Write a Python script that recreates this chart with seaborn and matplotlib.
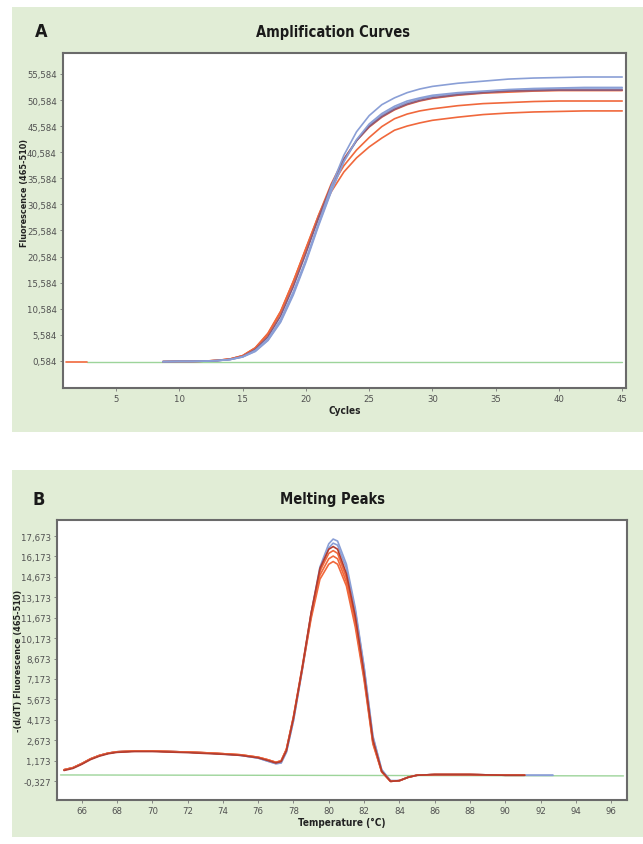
import matplotlib
matplotlib.use("Agg")
import matplotlib.pyplot as plt
import seaborn as sns
import pandas as pd
from matplotlib import font_manager
from matplotlib.font_manager import FontProperties
from matplotlib.patches import Rectangle
from matplotlib.ticker import FixedLocator, FuncFormatter

# ---------------- data: panel A (amplification) ----------------
cycles = [8.7, 10, 11, 12, 13, 14, 15, 16, 17, 18, 19, 20, 21, 22, 23, 24, 25,
          26, 27, 28, 29, 30, 32, 34, 36, 38, 40, 42, 45]
amp_blue1 = [0.45, 0.5, 0.5, 0.55, 0.65, 0.85, 1.4, 2.6, 4.8, 8.5, 13.8, 20.0, 27.0, 34.0, 40.0,
             44.5, 47.6, 49.7, 51.0, 52.0, 52.7, 53.2, 53.8, 54.2, 54.6, 54.8, 54.9, 55.0, 55.0]
amp_blue2 = [0.45, 0.5, 0.5, 0.55, 0.65, 0.85, 1.35, 2.4, 4.5, 8.0, 13.2, 19.5, 26.5, 33.0, 38.8,
             43.0, 46.0, 48.0, 49.4, 50.4, 51.0, 51.5, 52.0, 52.3, 52.6, 52.8, 52.9, 53.0, 53.0]
amp_blue3 = [0.45, 0.5, 0.5, 0.55, 0.65, 0.85, 1.35, 2.5, 4.6, 8.2, 13.5, 19.8, 26.8, 33.2, 38.8,
             42.8, 45.7, 47.7, 49.1, 50.1, 50.8, 51.3, 51.8, 52.1, 52.4, 52.6, 52.7, 52.7, 52.7]
amp_dark = [0.45, 0.5, 0.5, 0.55, 0.65, 0.9, 1.45, 2.8, 5.2, 9.2, 14.8, 21.2, 28.0, 34.2, 39.2,
            42.8, 45.5, 47.4, 48.8, 49.8, 50.5, 51.0, 51.6, 52.0, 52.3, 52.4, 52.5, 52.5, 52.5]
amp_orange1 = [0.45, 0.5, 0.5, 0.55, 0.7, 0.95, 1.55, 3.0, 5.6, 9.8, 15.5, 22.0, 28.5, 34.5, 39.3,
               42.8, 45.4, 47.3, 48.7, 49.7, 50.4, 50.9, 51.5, 51.9, 52.1, 52.3, 52.4, 52.4, 52.4]
amp_orange2 = [0.45, 0.5, 0.5, 0.55, 0.7, 0.95, 1.6, 3.1, 5.8, 10.0, 15.8, 22.2, 28.5, 34.0, 38.0,
               41.0, 43.4, 45.5, 47.0, 47.9, 48.5, 48.9, 49.5, 49.9, 50.1, 50.3, 50.4, 50.4, 50.4]
amp_orange3 = [0.45, 0.5, 0.5, 0.55, 0.7, 0.95, 1.6, 3.1, 5.9, 10.1, 15.8, 22.0, 28.0, 33.0, 36.8,
               39.5, 41.6, 43.3, 44.8, 45.6, 46.2, 46.7, 47.3, 47.8, 48.1, 48.3, 48.4, 48.5, 48.5]
amp_start_cycles = [1.0, 2.7]
amp_start_values = [0.4, 0.4]
amp_green_cycles = [2.7, 45]
amp_green_values = [0.3, 0.3]
a_xticks = [5, 10, 15, 20, 25, 30, 35, 40, 45]
a_yticks = [0.584, 5.584, 10.584, 15.584, 20.584, 25.584, 30.584, 35.584,
            40.584, 45.584, 50.584, 55.584]

# ---------------- data: panel B (melting peaks) ----------------
temp_orange = [65, 65.5, 66, 66.5, 67, 67.5, 68, 69, 70, 71, 72, 73, 74, 75, 76, 76.5, 77, 77.3,
               77.6, 78, 78.5, 79, 79.5, 80, 80.25, 80.5, 81, 81.5, 82, 82.5, 83, 83.5, 84, 84.5,
               85, 86, 88, 90, 91.1]
temp_blue = temp_orange[:-1] + [91, 92.7]
melt_orange1 = [0.5, 0.65, 0.95, 1.3, 1.55, 1.72, 1.82, 1.88, 1.88, 1.84, 1.8, 1.75, 1.68, 1.6, 1.42,
                1.25, 1.05, 1.15, 2.0, 4.4, 8.1, 12.0, 15.1, 16.4, 16.6, 16.4, 14.6, 11.5, 7.4, 2.6,
                0.35, -0.35, -0.3, -0.05, 0.1, 0.15, 0.15, 0.1, 0.1]
melt_orange2 = [0.5, 0.65, 0.95, 1.3, 1.55, 1.72, 1.82, 1.88, 1.88, 1.84, 1.8, 1.75, 1.68, 1.6, 1.42,
                1.25, 1.05, 1.15, 2.0, 4.4, 8.0, 11.8, 14.8, 16.0, 16.2, 16.0, 14.3, 11.3, 7.3, 2.5,
                0.35, -0.35, -0.3, -0.05, 0.1, 0.15, 0.15, 0.1, 0.1]
melt_orange3 = [0.5, 0.65, 0.95, 1.3, 1.55, 1.72, 1.82, 1.88, 1.88, 1.84, 1.8, 1.75, 1.68, 1.6, 1.42,
                1.25, 1.05, 1.15, 2.0, 4.3, 7.9, 11.6, 14.5, 15.6, 15.8, 15.6, 14.0, 11.0, 7.1, 2.4,
                0.35, -0.35, -0.3, -0.05, 0.1, 0.15, 0.15, 0.1, 0.1]
melt_dark = [0.45, 0.6, 0.9, 1.25, 1.5, 1.68, 1.78, 1.84, 1.84, 1.8, 1.76, 1.7, 1.64, 1.56, 1.38,
             1.2, 1.0, 1.1, 1.9, 4.3, 8.0, 12.0, 15.3, 16.7, 16.9, 16.7, 14.9, 11.8, 7.6, 2.7,
             0.4, -0.35, -0.3, -0.05, 0.1, 0.15, 0.15, 0.1, 0.1]
melt_blue1 = [0.5, 0.65, 0.95, 1.3, 1.55, 1.72, 1.82, 1.88, 1.88, 1.84, 1.8, 1.74, 1.66, 1.56, 1.36,
              1.15, 0.95, 1.0, 1.8, 4.1, 7.9, 12.0, 15.4, 17.1, 17.45, 17.3, 15.6, 12.4, 8.1, 3.0,
              0.5, -0.3, -0.3, -0.05, 0.1, 0.15, 0.15, 0.1, 0.1, 0.1]
melt_blue2 = [0.5, 0.65, 0.95, 1.3, 1.55, 1.72, 1.82, 1.88, 1.88, 1.84, 1.8, 1.74, 1.66, 1.56, 1.36,
              1.15, 0.95, 1.0, 1.8, 4.1, 7.8, 11.8, 15.1, 16.8, 17.15, 17.0, 15.3, 12.2, 8.0, 2.9,
              0.5, -0.3, -0.3, -0.05, 0.1, 0.15, 0.15, 0.1, 0.1, 0.1]
melt_green_temps = [64.8, 96.7]
melt_green_values = [0.12, 0.05]
b_xticks = [66, 68, 70, 72, 74, 76, 78, 80, 82, 84, 86, 88, 90, 92, 94, 96]
b_yticks = [-0.327, 1.173, 2.673, 4.173, 5.673, 7.173, 8.673, 10.173, 11.673,
            13.173, 14.673, 16.173, 17.673]

# ---------------- style ----------------
BLUE = "#8a9fd6"
ORANGE = "#f0683c"
DARK_A = "#8c5a78"
DARK_B = "#b23c30"
GREEN = "#9dd49a"
PANEL = "#e1edd6"

sns.set_style("white")

# look for a narrow / condensed sans face
reg_file, bold_file = None, None
for f in font_manager.fontManager.ttflist:
    narrow = ("Narrow" in f.name) or ("condensed" in str(f.stretch).lower()) or \
             ("Condensed" in f.fname)
    if not narrow or f.style != "normal":
        continue
    w = f.weight if isinstance(f.weight, int) else (700 if "bold" in str(f.weight) else 400)
    if w >= 600 and bold_file is None:
        bold_file = f.fname
    elif w < 600 and reg_file is None:
        reg_file = f.fname

plt.rcParams["font.family"] = ["Liberation Sans", "DejaVu Sans"]
FP_REG = FontProperties(fname=reg_file) if reg_file else FontProperties(family="Liberation Sans")
FP_BOLD = FontProperties(fname=bold_file) if bold_file else FontProperties(family="Liberation Sans",
                                                                           weight="bold")

fig = plt.figure(figsize=(6.43, 8.45), dpi=100)
W, H = 643, 845


def fx(px):
    return px / W


def fy(py):
    return 1 - py / H


def fp(base, size):
    p = base.copy()
    p.set_size(size)
    return p


# green panels (behind axes)
fig.patches.append(Rectangle((fx(12), fy(433)), fx(631), 425 / H, transform=fig.transFigure,
                             facecolor=PANEL, edgecolor="none", zorder=-10))
fig.patches.append(Rectangle((fx(12), fy(838)), fx(631), 367 / H, transform=fig.transFigure,
                             facecolor=PANEL, edgecolor="none", zorder=-10))

axA = fig.add_axes([fx(63), fy(389), fx(563), 335 / H])
axB = fig.add_axes([fx(57), fy(801), fx(570), 280 / H])
axA.set_zorder(5)
axB.set_zorder(5)

LW = 1.2


def draw(ax, x, y, color, lw=LW):
    df = pd.DataFrame({"x": x, "y": y})
    sns.lineplot(data=df, x="x", y="y", color=color, linewidth=lw, ax=ax, sort=False)


# panel A
draw(axA, amp_green_cycles, amp_green_values, GREEN, 1.0)
draw(axA, amp_start_cycles, amp_start_values, ORANGE)
for ys, c in [(amp_orange3, ORANGE), (amp_orange2, ORANGE), (amp_orange1, ORANGE),
              (amp_blue3, BLUE), (amp_dark, DARK_A), (amp_blue2, BLUE), (amp_blue1, BLUE)]:
    draw(axA, cycles, ys, c)

# panel B
draw(axB, melt_green_temps, melt_green_values, GREEN, 1.0)
for ys, c in [(melt_blue2, BLUE), (melt_blue1, BLUE)]:
    draw(axB, temp_blue, ys, c)
for ys, c in [(melt_orange3, ORANGE), (melt_orange2, ORANGE), (melt_orange1, ORANGE)]:
    draw(axB, temp_orange, ys, c)
draw(axB, temp_orange, melt_dark, DARK_B)

comma = FuncFormatter(lambda v, p: f"{v:.3f}".replace(".", ","))
intfmt = FuncFormatter(lambda v, p: f"{v:g}")

for ax, xt, yt, xlim, ylim, xlabel in [
        (axA, a_xticks, a_yticks, (0.8, 45.3), (-4.6, 59.6), "Cycles"),
        (axB, b_xticks, b_yticks, (64.6, 96.9), (-1.72, 18.85), "Temperature (°C)")]:
    ax.set_xlim(*xlim)
    ax.set_ylim(*ylim)
    ax.xaxis.set_major_locator(FixedLocator(xt))
    ax.yaxis.set_major_locator(FixedLocator(yt))
    ax.yaxis.set_major_formatter(comma)
    ax.xaxis.set_major_formatter(intfmt)
    ax.tick_params(axis="both", which="both", direction="out", length=2.5, width=0.6,
                   color="#777777", labelcolor="#505050", pad=2, left=True, bottom=True)
    for lab in ax.get_xticklabels() + ax.get_yticklabels():
        lab.set_fontproperties(fp(FP_REG, 6.8))
    ax.set_xlabel(xlabel, fontproperties=fp(FP_BOLD, 7.2), color="#222222", labelpad=1)
    ax.set_ylabel("")
    ax.set_facecolor("white")
    for s in ax.spines.values():
        s.set_color("#6a6a6a")
        s.set_linewidth(1.5)

fig.text(fx(25), fy(193), "Fluorescence (465-510)", rotation=90, ha="center", va="center",
         fontproperties=fp(FP_BOLD, 6.5), color="#222222")
fig.text(fx(19), fy(661), "-(d/dT) Fluorescence (465-510)", rotation=90, ha="center",
         va="center", fontproperties=fp(FP_BOLD, 6.5), color="#222222")

fig.text(fx(35), fy(32), "A", fontproperties=fp(FP_BOLD, 13), ha="left", va="center",
         color="#1a1a1a")
fig.text(fx(333), fy(32), "Amplification Curves", fontproperties=fp(FP_BOLD, 10.5),
         ha="center", va="center", color="#1a1a1a")
fig.text(fx(33), fy(500), "B", fontproperties=fp(FP_BOLD, 13), ha="left", va="center",
         color="#1a1a1a")
fig.text(fx(333), fy(500), "Melting Peaks", fontproperties=fp(FP_BOLD, 10.5),
         ha="center", va="center", color="#1a1a1a")

fig.savefig("out.png", dpi=100, facecolor="white")
